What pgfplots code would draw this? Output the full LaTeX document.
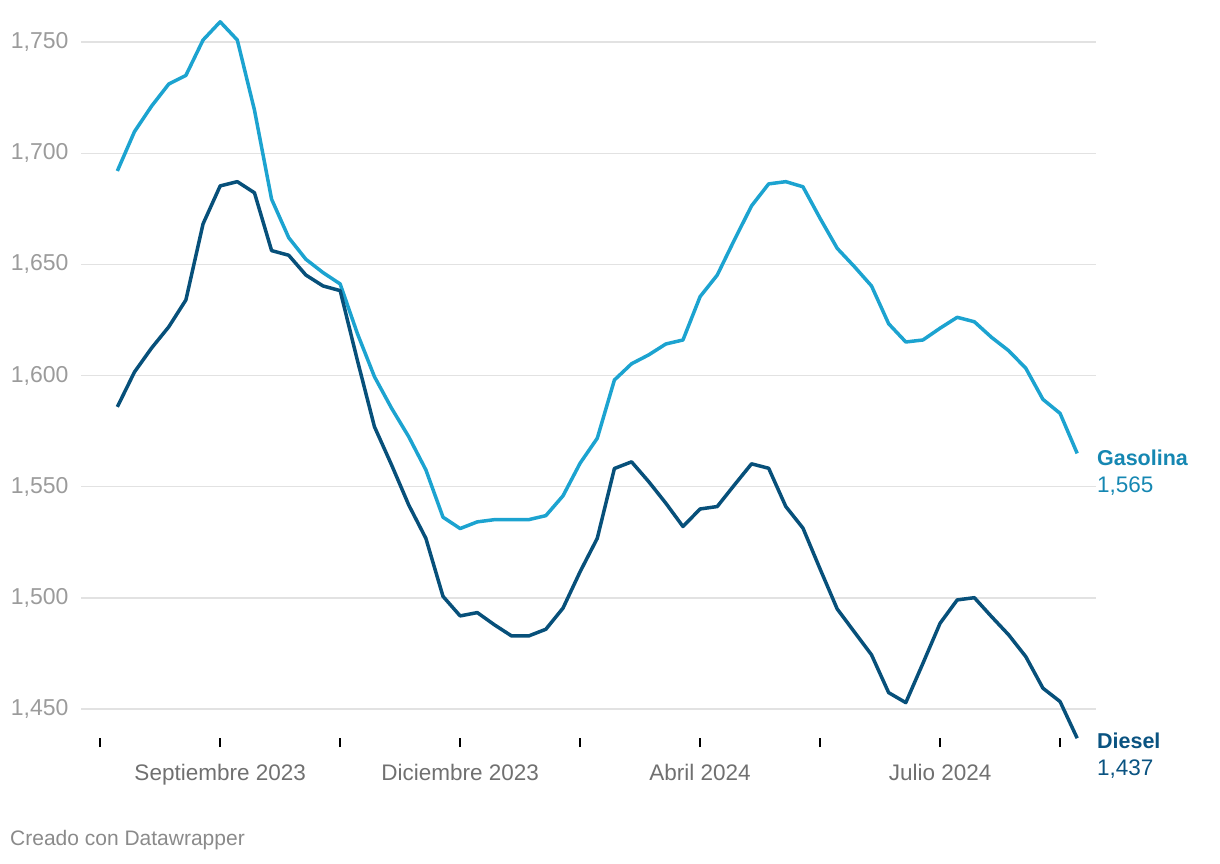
\documentclass[border=0pt]{standalone}
\usepackage{fontspec}
\setmainfont{Liberation Sans}
\usepackage{pgfplots}
\pgfplotsset{compat=1.18}
\definecolor{gas}{HTML}{1CA3D0}
\definecolor{gaslab}{HTML}{1587B2}
\definecolor{dsl}{HTML}{07507A}
\definecolor{dsllab}{HTML}{0A5381}
\definecolor{gridc}{HTML}{E2E2E2}
\definecolor{ylab}{HTML}{9B9B9B}
\definecolor{xlab}{HTML}{707070}
\definecolor{foot}{HTML}{8A8A8A}
\begin{document}
\begin{tikzpicture}[x=1pt,y=1pt]
\useasboundingbox (0,0) rectangle (1220,864);
\begin{axis}[
  at={(81pt,126pt)}, anchor=south west,
  scale only axis, width=1015pt, height=718.2pt,
  xmin=-2.12, xmax=57.1, ymin=1437, ymax=1760,
  clip=false,
  axis line style={draw=none},
  xtick pos=bottom,
  ymajorgrids, grid style={gridc, line width=1.3pt},
  ytick={1450,1500,1550,1600,1650,1700,1750},
  ytick style={draw=none},
  yticklabel style={font=\fontsize{23}{27}\selectfont, text=ylab, anchor=east, xshift=0pt},
  /pgf/number format/assume math mode=true,
  /pgf/number format/1000 sep={,},
  xtick={-1,6,13,20,27,34,41,48,55},
  xticklabels={,Septiembre 2023,,Diciembre 2023,,Abril 2024,,Julio 2024,},
  x tick style={black, line width=1.6pt},
  major tick length=9pt, tick align=outside,
  xticklabel style={font=\fontsize{22.5}{27}\selectfont, text=xlab, anchor=north, yshift=-14pt},
]
\addplot[gas, line width=3.5pt, line join=round] coordinates {
(0,1692.0)(1,1709.7)(2,1721.2)(3,1731.1)(4,1735.0)(5,1750.9)(6,1759.1)(7,1750.9)(8,1719.4)(9,1679.3)
(10,1662.0)(11,1652.3)(12,1646.3)(13,1641.2)(14,1619.0)(15,1599.5)(16,1585.3)(17,1572.5)(18,1557.6)(19,1536.3)
(20,1531.2)(21,1534.2)(22,1535.2)(23,1535.2)(24,1535.2)(25,1537.0)(26,1545.9)(27,1560.6)(28,1571.8)(29,1598.0)
(30,1605.3)(31,1609.3)(32,1614.2)(33,1616.0)(34,1635.5)(35,1645.2)(36,1661.0)(37,1676.3)(38,1686.2)(39,1687.2)
(40,1684.9)(41,1670.7)(42,1657.2)(43,1649.0)(44,1640.3)(45,1623.3)(46,1615.1)(47,1616.0)(48,1621.3)(49,1626.2)
(50,1624.2)(51,1617.2)(52,1611.2)(53,1603.3)(54,1589.3)(55,1583.0)(56,1565.0)
};
\addplot[dsl, line width=3.5pt, line join=round] coordinates {
(0,1585.9)(1,1601.6)(2,1612.4)(3,1621.9)(4,1634.0)(5,1668.2)(6,1685.3)(7,1687.2)(8,1682.2)(9,1656.2)
(10,1654.1)(11,1645.2)(12,1640.3)(13,1638.2)(14,1607.0)(15,1577.0)(16,1559.8)(17,1541.8)(18,1526.8)(19,1500.7)
(20,1491.9)(21,1493.4)(22,1487.9)(23,1482.9)(24,1482.9)(25,1485.9)(26,1495.4)(27,1511.8)(28,1526.8)(29,1558.2)
(30,1561.2)(31,1552.3)(32,1542.6)(33,1532.1)(34,1540.0)(35,1541.1)(36,1550.8)(37,1560.3)(38,1558.3)(39,1541.1)
(40,1531.4)(41,1513.0)(42,1495.0)(43,1484.7)(44,1474.4)(45,1457.4)(46,1452.9)(47,1470.6)(48,1488.6)(49,1499.1)
(50,1500.1)(51,1491.6)(52,1483.4)(53,1473.6)(54,1459.4)(55,1453.4)(56,1436.9)
};
\node[anchor=west, inner sep=0pt, text=gaslab, font=\bfseries\fontsize{21.5}{26}\selectfont] at (axis cs:57.15,1562.9) {Gasolina};
\node[anchor=west, inner sep=0pt, text=gaslab, font=\fontsize{22.5}{26}\selectfont] at (axis cs:57.15,1550.4) {1,565};
\node[anchor=west, inner sep=0pt, text=dsllab, font=\bfseries\fontsize{21.5}{26}\selectfont] at (axis cs:57.15,1435.7) {Diesel};
\node[anchor=west, inner sep=0pt, text=dsllab, font=\fontsize{22.5}{26}\selectfont] at (axis cs:57.15,1423.1) {1,437};
\end{axis}
\node[anchor=west, inner sep=0pt, text=foot, font=\fontsize{21}{25}\selectfont] at (10,24) {Creado con Datawrapper};
\end{tikzpicture}
\end{document}
